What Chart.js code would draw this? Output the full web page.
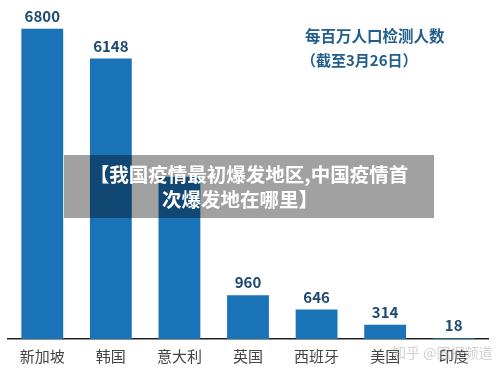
<!DOCTYPE html>
<html>
<head>
<meta charset="utf-8">
<script src="https://cdn.jsdelivr.net/npm/chart.js@4"></script>
<style>
  html, body { margin: 0; padding: 0; background: #fff; }
  #wrap { width: 500px; height: 373px; }
</style>
</head>
<body>
<div id="wrap"><canvas id="grafico" width="500" height="373"></canvas></div>
<script>
// datos
const paises = ['新加坡', '韩国', '意大利', '英国', '西班牙', '美国', '印度'];
const pruebas = [6800, 6148, 3560, 960, 646, 314, 18];
const etiquetas = ['6800', '6148', '', '960', '646', '314', '18'];
const titulo = ['每百万人口检测人数', '（截至3月26日）'];
const aviso = ['【我国疫情最初爆发地区,中国疫情首', '次爆发地在哪里】'];

const FUENTE = '"Noto Sans CJK SC", "Noto Sans", sans-serif';

// dibuja titulo, etiquetas y el recuadro gris
const extras = {
  id: 'extras',
  afterDatasetsDraw(chart) {
    const ctx = chart.ctx;
    const meta = chart.getDatasetMeta(0);
    ctx.save();
    ctx.textAlign = 'center';
    ctx.textBaseline = 'bottom';
    ctx.fillStyle = '#1d4a70';
    ctx.font = 'bold 15px ' + FUENTE;
    meta.data.forEach((bar, i) => {
      if (etiquetas[i]) ctx.fillText(etiquetas[i], bar.x, bar.y - 5);
    });

    ctx.fillStyle = '#1f5d8c';
    ctx.textAlign = 'left';
    ctx.textBaseline = 'middle';
    ctx.font = 'bold 15.5px ' + FUENTE;
    ctx.fillText(titulo[0], 305, 36);
    ctx.font = 'bold 15px ' + FUENTE;
    ctx.fillText(titulo[1], 301, 60);

    // marca de agua
    ctx.fillStyle = 'rgba(150,150,150,0.45)';
    ctx.font = '14px ' + FUENTE;
    ctx.fillText('知乎 @图据频道', 392, 353);

    // recuadro
    ctx.fillStyle = 'rgba(0,0,0,0.37)';
    ctx.fillRect(64, 155, 370, 63);
    ctx.fillStyle = '#fff';
    ctx.textAlign = 'center';
    ctx.font = 'bold 19.5px ' + FUENTE;
    ctx.fillText(aviso[0], 249, 175);
    ctx.fillText(aviso[1], 240, 200);
    ctx.restore();
  }
};

new Chart(document.getElementById('grafico').getContext('2d'), {
  type: 'bar',
  data: {
    labels: paises,
    datasets: [{
      data: pruebas,
      backgroundColor: '#1a73b6',
      barPercentage: 0.61,
      categoryPercentage: 1
    }]
  },
  options: {
    responsive: false,
    animation: false,
    layout: { padding: { left: 8, right: 12, top: 0, bottom: 0 } },
    plugins: {
      legend: { display: false },
      tooltip: { enabled: false }
    },
    scales: {
      y: { display: false, min: 0, max: 7433 },
      x: {
        grid: { display: false, drawTicks: false },
        border: { display: true, color: '#222', width: 1.5 },
        ticks: {
          color: '#444',
          padding: 8,
          font: { family: FUENTE, size: 15 }
        }
      }
    }
  },
  plugins: [extras]
});
</script>
</body>
</html>
